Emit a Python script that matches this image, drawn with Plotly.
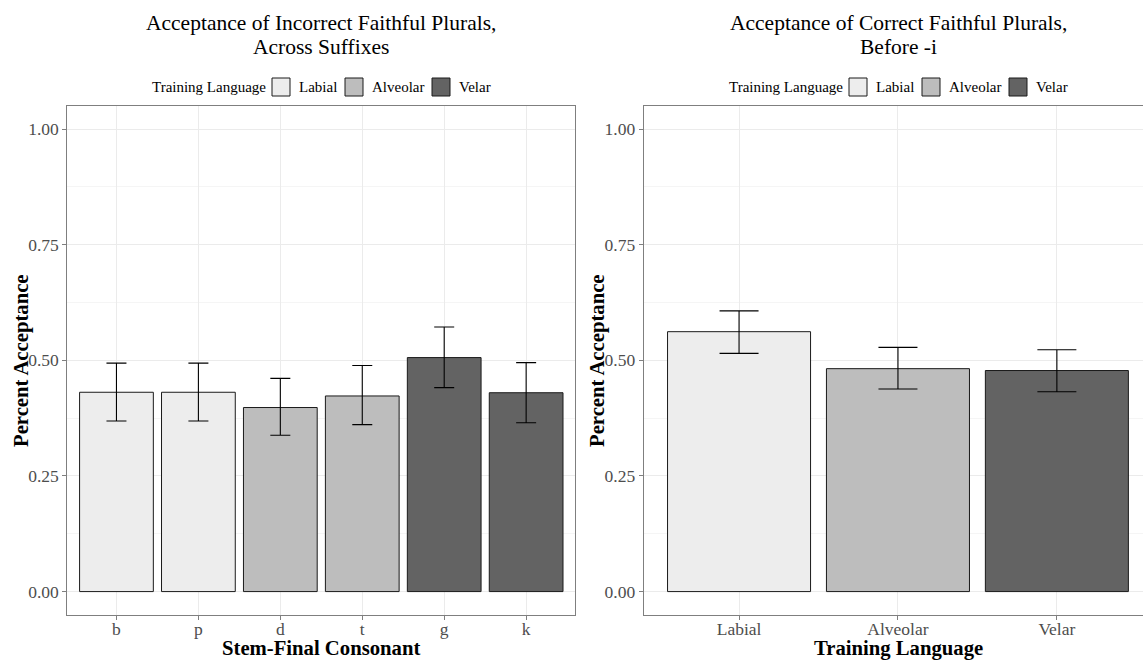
import plotly.graph_objects as go

# ---- data ----
left_consonants = ["b", "p", "d", "t", "g", "k"]
left_language = ["Labial", "Labial", "Alveolar", "Alveolar", "Velar", "Velar"]
left_mean = [0.431, 0.431, 0.398, 0.423, 0.506, 0.430]
left_upper = [0.494, 0.494, 0.461, 0.489, 0.572, 0.495]
left_lower = [0.369, 0.369, 0.338, 0.361, 0.441, 0.365]

right_language = ["Labial", "Alveolar", "Velar"]
right_mean = [0.562, 0.482, 0.478]
right_upper = [0.607, 0.528, 0.523]
right_lower = [0.515, 0.438, 0.432]

languages = ["Labial", "Alveolar", "Velar"]
fill_colors = {"Labial": "#EDEDED", "Alveolar": "#BDBDBD", "Velar": "#636363"}

y_ticks = [0, 0.25, 0.5, 0.75, 1.0]
y_ticktext = ["0.00", "0.25", "0.50", "0.75", "1.00"]

titles_left = ["Acceptance of Incorrect Faithful Plurals,", "Across Suffixes"]
titles_right = ["Acceptance of Correct Faithful Plurals,", "Before -i"]
legend_title = "Training Language"

FONT = "Liberation Serif, Times New Roman, serif"
W, H = 1143, 660

fig = go.Figure()

for lang in languages:
    idx = [i for i, l in enumerate(left_language) if l == lang]
    fig.add_trace(go.Bar(
        x=[left_consonants[i] for i in idx],
        y=[left_mean[i] for i in idx],
        width=0.9, name=lang, showlegend=False,
        marker=dict(color=fill_colors[lang], line=dict(color="#1A1A1A", width=1)),
        error_y=dict(
            type="data", symmetric=False,
            array=[left_upper[i] - left_mean[i] for i in idx],
            arrayminus=[left_mean[i] - left_lower[i] for i in idx],
            color="black", thickness=1.1, width=10,
        ),
        xaxis="x", yaxis="y",
    ))

for lang in languages:
    i = right_language.index(lang)
    fig.add_trace(go.Bar(
        x=[lang], y=[right_mean[i]],
        width=0.9, name=lang, showlegend=False,
        marker=dict(color=fill_colors[lang], line=dict(color="#1A1A1A", width=1)),
        error_y=dict(
            type="data", symmetric=False,
            array=[right_upper[i] - right_mean[i]],
            arrayminus=[right_mean[i] - right_lower[i]],
            color="black", thickness=1.1, width=19.5,
        ),
        xaxis="x2", yaxis="y2",
    ))

def px_x(p):
    return p / W

def px_y(p):
    return 1 - p / H

y_dom = [px_y(614.7), px_y(106)]
grid_major = "#EBEBEB"
grid_minor = "#F5F5F5"
border = "#7F7F7F"
tickfont = dict(family=FONT, size=17.5, color="#4D4D4D")
axtitlefont = dict(family=FONT, size=20.7, color="black")

common_x = dict(
    type="category", showgrid=True, gridcolor=grid_major, gridwidth=1,
    showline=True, linecolor=border, linewidth=1, mirror=True,
    ticks="outside", ticklen=4, tickcolor=border, tickfont=tickfont,
    ticklabelstandoff=-6,
    zeroline=False, automargin=False, fixedrange=True,
)
common_y = dict(
    range=[-0.05, 1.05], tickvals=y_ticks, ticktext=y_ticktext,
    showgrid=True, gridcolor=grid_major, gridwidth=1,
    minor=dict(dtick=0.125, tick0=0, showgrid=True, gridcolor=grid_minor, gridwidth=0.6),
    showline=True, linecolor=border, linewidth=1,
    ticks="outside", ticklen=4, tickcolor=border, tickfont=tickfont,
    zeroline=False, automargin=False, fixedrange=True,
)

annotations = []
shapes = []

def panel_text(center_x, title_lines, xtitle, ytitle_x):
    for line, yc in zip(title_lines, [23, 47]):
        annotations.append(dict(
            text=line, x=px_x(center_x), y=px_y(yc), xref="paper", yref="paper",
            xanchor="center", yanchor="middle", showarrow=False,
            font=dict(family=FONT, size=21.5, color="black")))
    annotations.append(dict(
        text="<b>%s</b>" % xtitle, x=px_x(center_x), y=px_y(648), xref="paper", yref="paper",
        xanchor="center", yanchor="middle", showarrow=False, font=axtitlefont))
    annotations.append(dict(
        text="<b>Percent Acceptance</b>", x=px_x(ytitle_x), y=px_y(361), xref="paper", yref="paper",
        xanchor="center", yanchor="middle", textangle=-90, showarrow=False, font=axtitlefont))
    ly = 87
    annotations.append(dict(
        text=legend_title, x=px_x(center_x - 171), y=px_y(ly), xref="paper", yref="paper",
        xanchor="left", yanchor="middle", showarrow=False,
        font=dict(family=FONT, size=15, color="black")))
    key_offsets = [-49, 24, 111]
    for lang, ko in zip(languages, key_offsets):
        x0 = center_x + ko
        shapes.append(dict(
            type="rect", xref="paper", yref="paper",
            x0=px_x(x0), x1=px_x(x0 + 18), y0=px_y(ly + 9), y1=px_y(ly - 9),
            fillcolor=fill_colors[lang], line=dict(color="#1A1A1A", width=1)))
        annotations.append(dict(
            text=lang, x=px_x(x0 + 25), y=px_y(ly), xref="paper", yref="paper",
            xanchor="left", yanchor="middle", showarrow=False,
            font=dict(family=FONT, size=15, color="black")))

panel_text(321, titles_left, "Stem-Final Consonant", 21)
panel_text(898, titles_right, "Training Language", 597)

fig.update_layout(
    width=W, height=H,
    margin=dict(l=0, r=0, t=0, b=0),
    paper_bgcolor="white", plot_bgcolor="white",
    barmode="overlay", showlegend=False,
    font=dict(family=FONT, color="black"),
    xaxis=dict(common_x, domain=[px_x(67.3), px_x(575.3)], range=[-0.6, 5.6],
               categoryorder="array", categoryarray=left_consonants),
    yaxis=dict(common_y, domain=y_dom, mirror=True),
    xaxis2=dict(common_x, domain=[px_x(643.7), 1.0], range=[-0.6, 2.542], anchor="y2",
                categoryorder="array", categoryarray=right_language),
    yaxis2=dict(common_y, domain=y_dom, anchor="x2", mirror=False),
    annotations=annotations,
    shapes=shapes,
)

fig.write_html("out.html")
